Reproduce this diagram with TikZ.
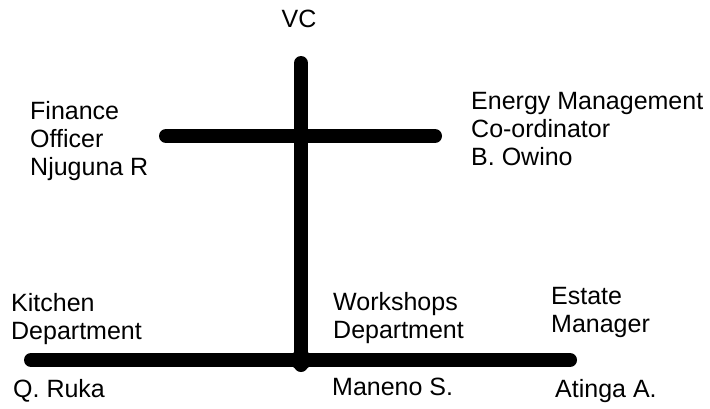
\documentclass[tikz,border=0pt]{standalone}
\usepackage{fontspec}
\setmainfont{Liberation Sans}
\begin{document}
\begin{tikzpicture}[x=1pt,y=-1pt,
  bar/.style={line width=14pt,line cap=round},
  lbl/.style={inner sep=0pt,anchor=base west,align=left,font=\fontsize{25}{28}\selectfont}]
\useasboundingbox (0,0) rectangle (710,408);
% coordinates
\coordinate (vtop) at (301,63);
\coordinate (vbot) at (301,365);
\coordinate (ul) at (166,136);
\coordinate (ur) at (435,136);
\coordinate (uj) at (301,136);
\coordinate (bl) at (31,360);
\coordinate (br) at (570,360);
\coordinate (bj) at (301,360);
% bars
\draw[bar] (vtop) -- (vbot);
\draw[bar] (ul) -- (ur);
\draw[bar] (bl) -- (br);
\fill (uj) circle (9.5);
\fill (bj) circle (10.5);
% labels (base = baseline of last line)
\node[lbl,anchor=base] (vc) at (299,27) {VC};
\node[lbl] (fin) at (30,175) {Finance\\Officer\\Njuguna R};
\node[lbl] (energy) at (471,165.5) {Energy Management\\Co-ordinator\\B. Owino};
\node[lbl] (kitchen) at (11,339) {Kitchen\\Department};
\node[lbl] (workshops) at (333,338) {Workshops\\Department};
\node[lbl] (estate) at (551,332) {Estate\\Manager};
\node[lbl] (ruka) at (13,397) {Q. Ruka};
\node[lbl] (maneno) at (332,395) {Maneno S.};
\node[lbl] (atinga) at (555,397) {Atinga A.};
\end{tikzpicture}
\end{document}
